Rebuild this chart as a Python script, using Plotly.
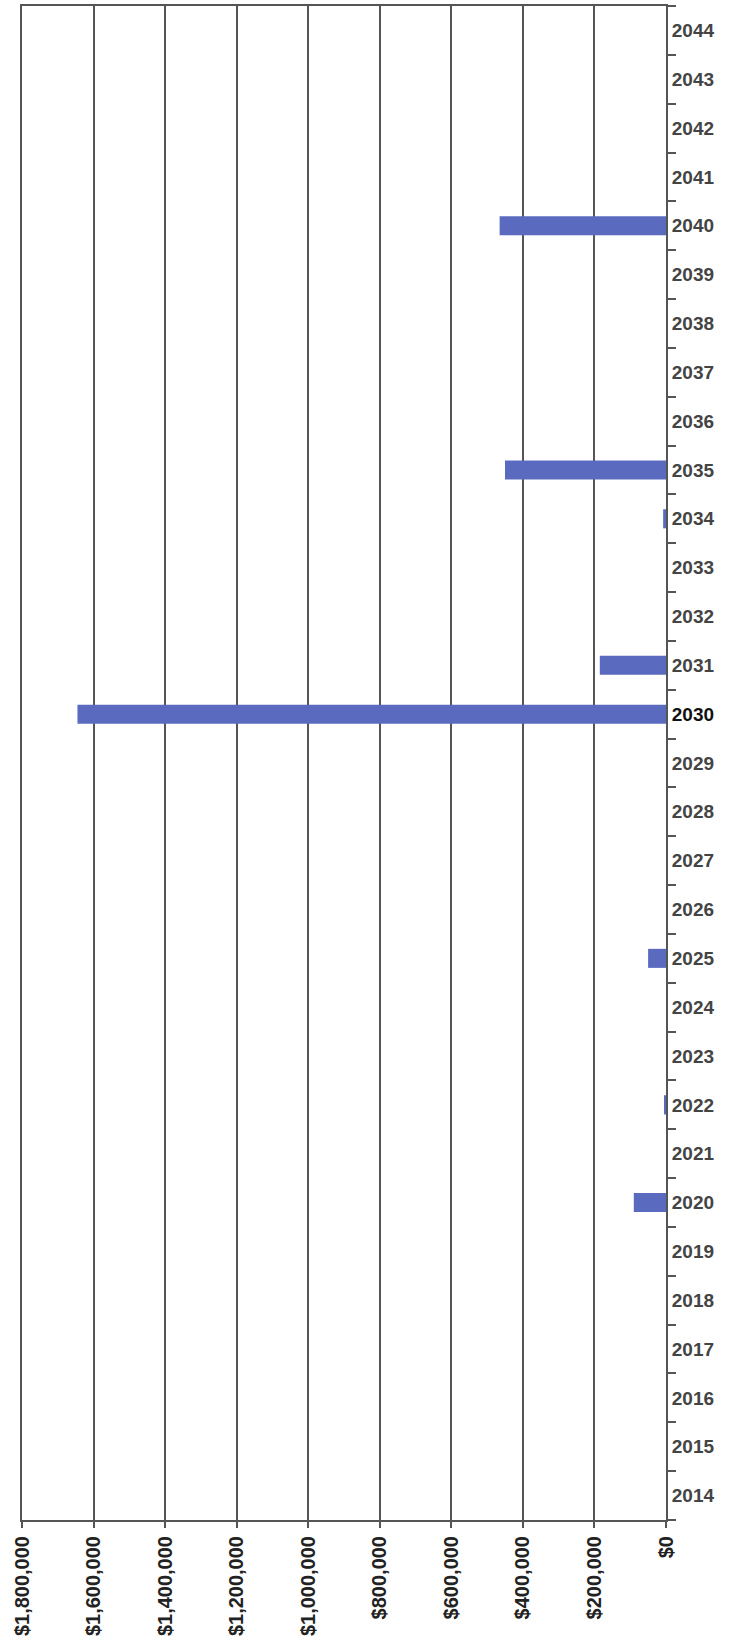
import plotly.graph_objects as go

years = [str(y) for y in range(2014, 2045)]
values = {
    "2020": 90000,
    "2022": 3000,
    "2025": 50000,
    "2030": 1645000,
    "2031": 185000,
    "2034": 8000,
    "2035": 450000,
    "2040": 465000,
}
amounts = [values.get(y, 0) for y in years]

x_ticks = [1800000, 1600000, 1400000, 1200000, 1000000, 800000, 600000, 400000, 200000, 0]
x_ticklabels = ["$1,800,000", "$1,600,000", "$1,400,000", "$1,200,000", "$1,000,000",
                "$800,000", "$600,000", "$400,000", "$200,000", "$0"]
y_ticklabels = [("<span style='color:#111111'>%s</span>" % y) if y == "2030" else y for y in years]

fig = go.Figure(go.Bar(
    x=amounts, y=years, orientation="h",
    marker=dict(color="#5a6abf", line=dict(width=0)),
))

axis_color = "#555555"
fig.update_layout(
    width=733, height=1651,
    margin=dict(l=22, r=67, t=4, b=131),
    paper_bgcolor="white", plot_bgcolor="white",
    bargap=0.61,
    showlegend=False,
    font=dict(family="Liberation Sans, Arial, sans-serif"),
)
fig.update_xaxes(
    range=[1800000, 0],
    tickmode="array", tickvals=x_ticks, ticktext=x_ticklabels,
    tickangle=-90,
    tickfont=dict(size=20, color="#222222", weight="bold"),
    showgrid=True, gridcolor=axis_color, gridwidth=1.6,
    showline=True, linecolor=axis_color, linewidth=2, mirror=True,
    ticks="outside", ticklen=6, tickcolor=axis_color, tickwidth=1.5,
    zeroline=False,
)
fig.update_yaxes(
    type="category", categoryorder="array", categoryarray=years,
    tickmode="array", tickvals=years, ticktext=y_ticklabels,
    side="right",
    tickson="boundaries",
    tickfont=dict(size=19, color="#444444", weight="bold"),
    showgrid=False,
    showline=True, linecolor=axis_color, linewidth=2, mirror=True,
    ticks="outside", ticklen=8, tickcolor=axis_color, tickwidth=1.5,
)

fig.write_html("out.html")
